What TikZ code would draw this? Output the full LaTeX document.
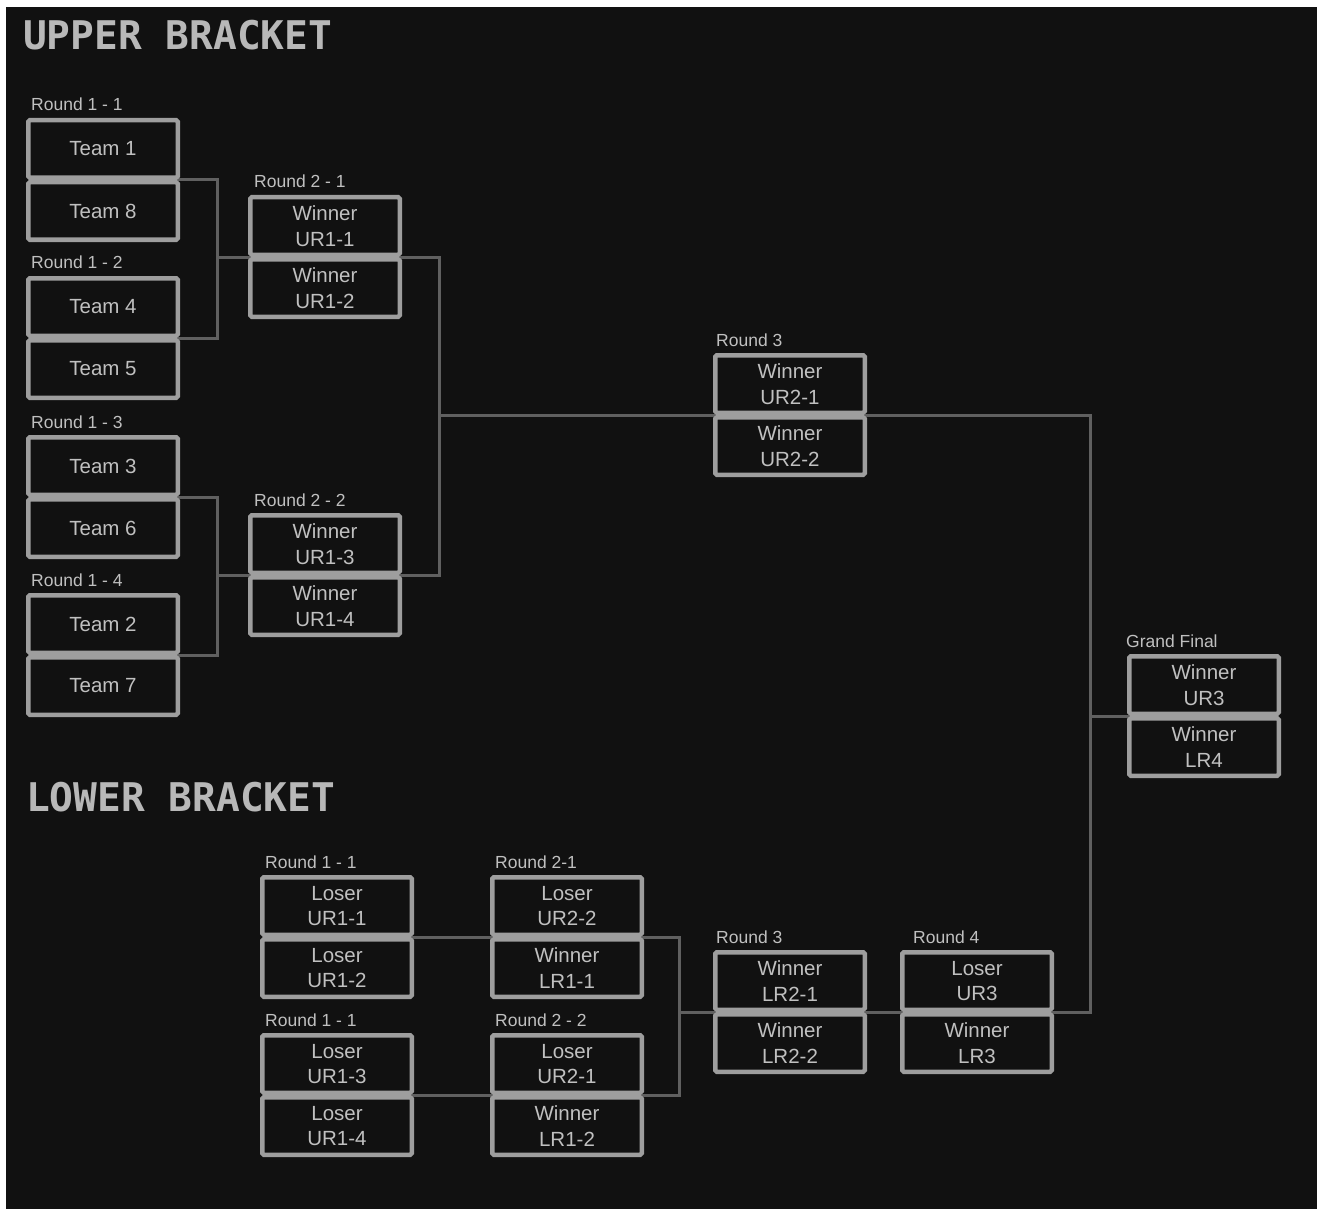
\documentclass[tikz,border=0pt]{standalone}
\usepackage{fontspec}
\setmainfont{Liberation Sans}
\newfontfamily\titlefont{DejaVu Sans Mono}
\usetikzlibrary{calc}
\definecolor{bgc}{HTML}{111111}
\definecolor{boxc}{HTML}{9E9E9E}
\definecolor{connc}{HTML}{606060}
\definecolor{txtc}{HTML}{C0C0C0}
\definecolor{titc}{HTML}{B8B8B8}
\pgfdeclarelayer{bglayer}
\pgfdeclarelayer{connlayer}
\pgfsetlayers{bglayer,connlayer,main}
\tikzset{
  slot/.style={draw=boxc, line width=4.5pt, fill=bgc, minimum width=149.5pt,
    minimum height=57.5pt, inner sep=0pt, outer sep=0pt, rounded corners=1.5pt,
    text=txtc, font=\fontsize{20.5}{25.5}\selectfont, align=center},
  rlabel/.style={text=txtc, font=\fontsize{17.5}{18}\selectfont, anchor=base west, inner sep=0pt},
  conn/.style={draw=connc, line width=3pt},
  bigtitle/.style={text=titc, font=\titlefont\bfseries\fontsize{39.5}{40}\selectfont,
    anchor=base west, inner sep=0pt}
}
\newcommand\mymatch[5]{%
  \node[slot] (#1a) at (#2,#3-31) {#4};
  \node[slot] (#1b) at (#2,#3+31) {#5};
  \coordinate (#1R) at ($(#1a.south east)!.5!(#1b.north east)$);
  \coordinate (#1L) at ($(#1a.south west)!.5!(#1b.north west)$);
}
\begin{document}
\begin{tikzpicture}[x=1pt,y=-1pt]
\begin{pgfonlayer}{bglayer}
\fill[white] (0,0) rectangle (1317,1209);
\fill[bgc] (6,7) rectangle (1317,1209);
\end{pgfonlayer}
\useasboundingbox (0,0) rectangle (1317,1209);

% titles
\node[bigtitle] (tup) at (23,50) {UPPER BRACKET};
\node[bigtitle] (tlow) at (26,811) {LOWER BRACKET};

% upper bracket
\mymatch{u11}{103}{180}{Team 1}{Team 8}
\mymatch{u12}{103}{338}{Team 4}{Team 5}
\mymatch{u13}{103}{497}{Team 3}{Team 6}
\mymatch{u14}{103}{655}{Team 2}{Team 7}
\mymatch{u21}{325}{257}{Winner\\UR1-1}{Winner\\UR1-2}
\mymatch{u22}{325}{575}{Winner\\UR1-3}{Winner\\UR1-4}
\mymatch{u3}{790}{415}{Winner\\UR2-1}{Winner\\UR2-2}
\mymatch{gf}{1204}{716}{Winner\\UR3}{Winner\\LR4}

% lower bracket
\mymatch{l11}{337}{937}{Loser\\UR1-1}{Loser\\UR1-2}
\mymatch{l12}{337}{1095}{Loser\\UR1-3}{Loser\\UR1-4}
\mymatch{l21}{567}{937}{Loser\\UR2-2}{Winner\\LR1-1}
\mymatch{l22}{567}{1095}{Loser\\UR2-1}{Winner\\LR1-2}
\mymatch{l3}{790}{1012}{Winner\\LR2-1}{Winner\\LR2-2}
\mymatch{l4}{977}{1012}{Loser\\UR3}{Winner\\LR3}

% round labels
\node[rlabel] (lu11) at (31,111) {Round 1 - 1};
\node[rlabel] (lu12) at (31,269) {Round 1 - 2};
\node[rlabel] (lu13) at (31,428) {Round 1 - 3};
\node[rlabel] (lu14) at (31,586) {Round 1 - 4};
\node[rlabel] (lu21) at (254,188) {Round 2 - 1};
\node[rlabel] (lu22) at (254,506) {Round 2 - 2};
\node[rlabel] (lu3) at (716,346) {Round 3};
\node[rlabel] (lgf) at (1126,647) {Grand Final};
\node[rlabel] (ll11) at (265,868) {Round 1 - 1};
\node[rlabel] (ll12) at (265,1026) {Round 1 - 1};
\node[rlabel] (ll21) at (495,868) {Round 2-1};
\node[rlabel] (ll22) at (495,1026) {Round 2 - 2};
\node[rlabel] (ll3) at (716,943) {Round 3};
\node[rlabel] (ll4) at (913,943) {Round 4};

% connector verticals
\coordinate (vA) at (217,0);
\coordinate (vC) at (439,0);
\coordinate (vD) at (1090,0);
\coordinate (vE) at (679,0);

\begin{pgfonlayer}{connlayer}
\draw[conn] (u11R) -- (u11R -| vA) -- (u12R -| vA) -- (u12R);
\draw[conn] (u21L -| vA) -- (u21L);
\draw[conn] (u13R) -- (u13R -| vA) -- (u14R -| vA) -- (u14R);
\draw[conn] (u22L -| vA) -- (u22L);
\draw[conn] (u21R) -- (u21R -| vC) -- (u22R -| vC) -- (u22R);
\draw[conn] (u3L -| vC) -- (u3L);
\draw[conn] (u3R) -- (u3R -| vD) -- (l4R -| vD) -- (l4R);
\draw[conn] (gfL -| vD) -- (gfL);
\draw[conn] (l11R) -- (l21L);
\draw[conn] (l12R) -- (l22L);
\draw[conn] (l21R) -- (l21R -| vE) -- (l22R -| vE) -- (l22R);
\draw[conn] (l3L -| vE) -- (l3L);
\draw[conn] (l3R) -- (l4L);
\end{pgfonlayer}
\end{tikzpicture}
\end{document}
